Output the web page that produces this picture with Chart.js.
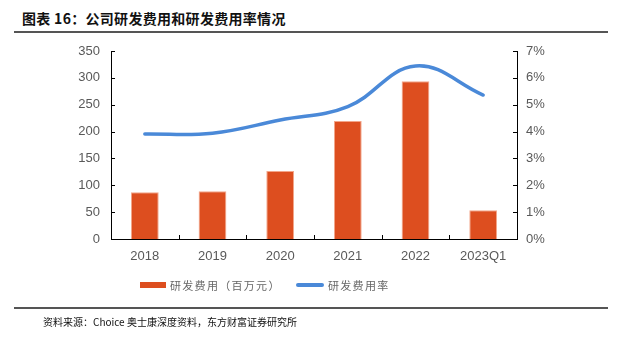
<!DOCTYPE html>
<html>
<head>
<meta charset="utf-8">
<script src="https://cdn.jsdelivr.net/npm/chart.js@4.4.0/dist/chart.umd.min.js"></script>
<style>
  body { margin: 0; background: #fff; }
  #wrap { position: relative; width: 625px; height: 340px; overflow: hidden; font-family: "Noto Sans CJK SC", sans-serif; }
  #title { position: absolute; left: 22px; top: 8px; font-size: 14px; font-weight: bold; color: #111; white-space: nowrap; letter-spacing: 0.3px; }
  .rule { position: absolute; left: 14px; width: 594px; height: 1.5px; background: #555; }
  #chartBox { position: absolute; left: 0; top: 0; width: 625px; height: 340px; }
  #legend { position: absolute; top: 276px; left: 0; width: 625px; height: 20px; font-size: 11px; color: #666; letter-spacing: 1.3px; }
  .item { position: absolute; top: 0; display: flex; align-items: center; height: 18px; white-space: nowrap; }
  .sw { display: inline-block; margin-right: 4px; }
  #source { position: absolute; left: 43px; top: 314px; font-size: 10px; color: #111; white-space: nowrap; }
</style>
</head>
<body>
<div id="wrap">
  <div id="title">图表 16：公司研发费用和研发费用率情况</div>
  <div class="rule" style="top:31px"></div>
  <div id="chartBox"><canvas id="rdChart"></canvas></div>
  <div id="legend"></div>
  <div class="rule" style="top:307px"></div>
  <div id="source">资料来源：Choice 奥士康深度资料，东方财富证券研究所</div>
</div>
<script>
// Data
const years = ['2018', '2019', '2020', '2021', '2022', '2023Q1'];
const rdExpense = [87, 89, 126.5, 219.5, 293.5, 53.5];     // 百万元
const rdRatio = [3.91, 3.94, 4.43, 4.93, 6.44, 5.36];     // %
const seriesNames = ['研发费用（百万元）', '研发费用率'];
const leftTicks = [0, 50, 100, 150, 200, 250, 300, 350];
const rightTicks = [0, 1, 2, 3, 4, 5, 6, 7];

const barColor = '#DD4E1F';
const lineColor = '#4A89D8';
const tickFont = { family: '"Liberation Sans", Arial, sans-serif', size: 13 };

// inward tick marks like the original
const innerTicks = {
    id: 'innerTicks',
    afterDraw(chart) {
        const ctx = chart.ctx;
        const { x, y, y1 } = chart.scales;
        ctx.save();
        ctx.strokeStyle = '#000';
        ctx.lineWidth = 1;
        ctx.beginPath();
        leftTicks.forEach(v => {
            const py = Math.round(y.getPixelForValue(v)) + 0.5;
            ctx.moveTo(x.left, py); ctx.lineTo(x.left + 4, py);
        });
        rightTicks.forEach(v => {
            const py = Math.round(y1.getPixelForValue(v)) + 0.5;
            ctx.moveTo(x.right, py); ctx.lineTo(x.right - 4, py);
        });
        for (let i = 0; i <= years.length; i++) {
            const px = Math.round(x.left + (x.right - x.left) * i / years.length) + 0.5;
            ctx.moveTo(px, y.bottom); ctx.lineTo(px, y.bottom - 4);
        }
        ctx.stroke();
        ctx.restore();
    }
};

function initializeChart() {
    const ctx = document.getElementById('rdChart').getContext('2d');
    new Chart(ctx, {
        data: {
            labels: years,
            datasets: [
                {
                    type: 'line',
                    label: seriesNames[1],
                    data: rdRatio,
                    yAxisID: 'y1',
                    borderColor: lineColor,
                    borderWidth: 3.5,
                    pointRadius: 0,
                    tension: 0.4,
                    borderCapStyle: 'round',
                    order: 0
                },
                {
                    type: 'bar',
                    label: seriesNames[0],
                    data: rdExpense,
                    yAxisID: 'y',
                    backgroundColor: barColor,
                    borderColor: '#F3A68A',
                    borderWidth: { top: 1, left: 1, right: 1, bottom: 0 },
                    barPercentage: 0.41,
                    categoryPercentage: 1,
                    order: 1
                }
            ]
        },
        options: {
            responsive: true,
            maintainAspectRatio: false,
            animation: false,
            layout: { padding: { top: 51, bottom: 77, left: 0, right: 0 } },
            plugins: { legend: { display: false }, tooltip: { enabled: false } },
            scales: {
                x: {
                    offset: true,
                    grid: { display: false, drawTicks: false },
                    border: { display: true, color: '#000', width: 1 },
                    ticks: { color: '#595959', font: tickFont, padding: 10, maxRotation: 0 },
                    afterFit: s => { s.height = 24; }
                },
                y: {
                    position: 'left',
                    min: 0, max: 350,
                    grid: { display: false, drawTicks: false },
                    border: { display: true, color: '#000', width: 1 },
                    ticks: { stepSize: 50, color: '#595959', font: tickFont, padding: 11 },
                    afterFit: s => { s.width = 111; }
                },
                y1: {
                    position: 'right',
                    min: 0, max: 7,
                    grid: { display: false, drawTicks: false },
                    border: { display: true, color: '#000', width: 1 },
                    ticks: { stepSize: 1, color: '#595959', font: tickFont, padding: 9, callback: v => v + '%' },
                    afterFit: s => { s.width = 108; }
                }
            }
        },
        plugins: [innerTicks]
    });
}

// HTML legend
function buildLegend() {
    const legend = document.getElementById('legend');
    const items = [
        { name: seriesNames[0], left: 140, sw: `width:26px;height:6px;background:${barColor};` },
        { name: seriesNames[1], left: 296, sw: `width:28px;height:4px;border-radius:2px;background:${lineColor};` }
    ];
    items.forEach(it => {
        const d = document.createElement('div');
        d.className = 'item';
        d.style.left = it.left + 'px';
        d.innerHTML = `<span class="sw" style="${it.sw}"></span><span>${it.name}</span>`;
        legend.appendChild(d);
    });
}

document.addEventListener('DOMContentLoaded', () => {
    initializeChart();
    buildLegend();
});
</script>
</body>
</html>
